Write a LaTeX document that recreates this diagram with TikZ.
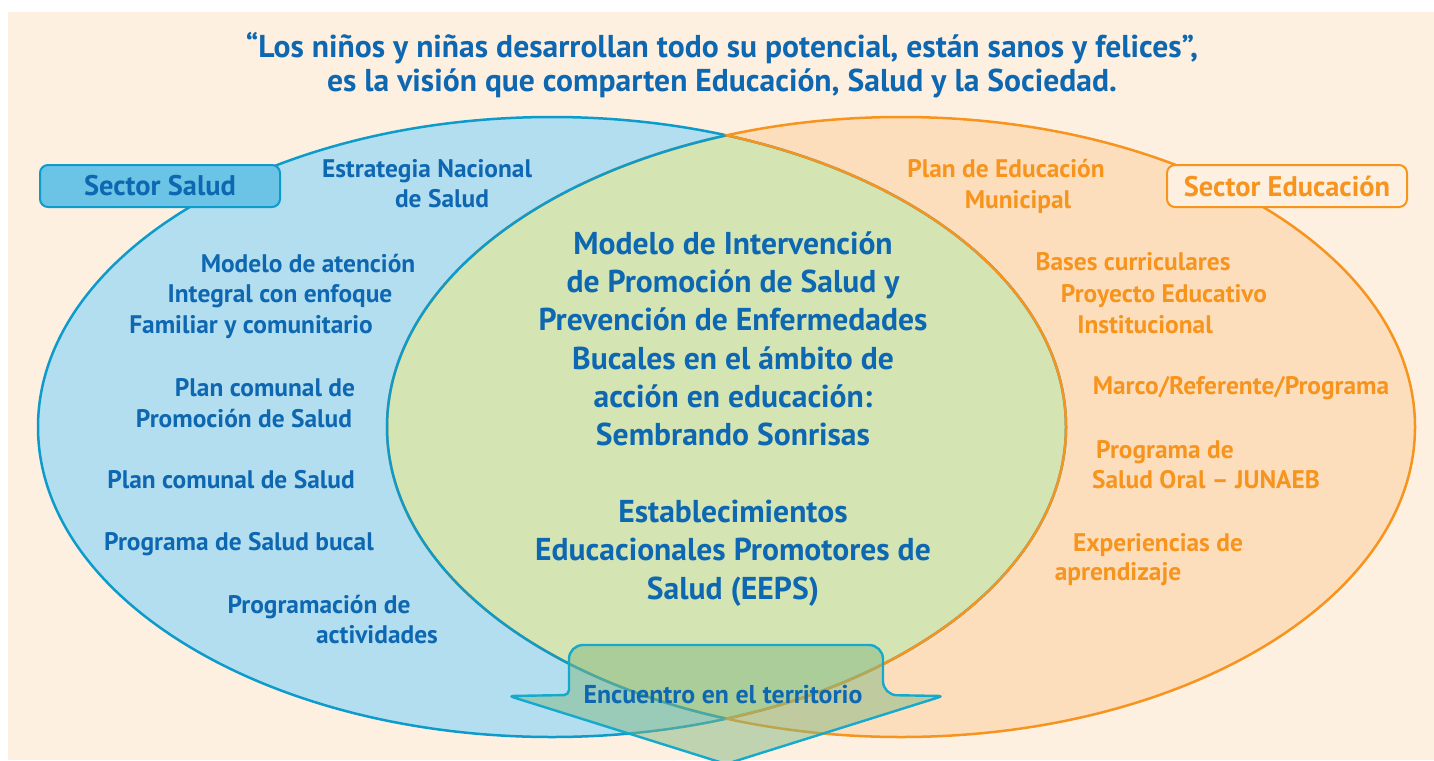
\documentclass[tikz,border=0pt]{standalone}
\usepackage{fontspec}
\setmainfont{PT Sans}
\usetikzlibrary{positioning}
\definecolor{cream}{HTML}{FDF0E1}
\definecolor{saludfill}{HTML}{B3DEF0}
\definecolor{saludline}{HTML}{0C9BCB}
\definecolor{saludtext}{HTML}{0D67B1}
\definecolor{saludbox}{HTML}{6BC4E5}
\definecolor{educfill}{HTML}{FDDEBC}
\definecolor{educline}{HTML}{F7941D}
\definecolor{lensfill}{HTML}{D4E4B3}
\definecolor{arrowfill}{HTML}{83B781}
\definecolor{arrowline}{HTML}{14A9CD}

\begin{document}
\begin{tikzpicture}[x=0.5pt,y=-0.5pt,
  oval/.style={x radius=514,y radius=310},
  saludtxt/.style={anchor=base,inner sep=0pt,text=saludtext,font=\fontsize{12.7}{15}\selectfont\bfseries},
  eductxt/.style={saludtxt,text=educline},
  sectorbox/.style={draw,line width=1pt,rounded corners=4pt,minimum width=120pt,minimum height=21pt,inner sep=0pt,font=\fontsize{14.2}{16}\selectfont\bfseries}]
\useasboundingbox (0,0) rectangle (1434,760);
\fill[white] (0,0) rectangle (1434,760);
\fill[cream] (8,12) rectangle (1434,760);

\coordinate (cl) at (552,427);
\coordinate (cr) at (901,427);

% the two sectors and where they meet
\fill[saludfill] (cl) ellipse [oval];
\fill[educfill] (cr) ellipse [oval];
\begin{scope}
\clip (cl) ellipse [oval];
\fill[lensfill] (cr) ellipse [oval];
\end{scope}
\draw[saludline,line width=1.25pt] (cl) ellipse [oval];
\draw[educline,line width=1.25pt] (cr) ellipse [oval];
\begin{scope}
\clip (cl) ellipse [oval];
\draw[saludline,line width=1.25pt] (cr) ellipse [oval];
\end{scope}
\begin{scope}
\clip (cr) ellipse [oval];
\draw[educline,line width=1.25pt] (cl) ellipse [oval];
\end{scope}

\node (vision) at (722,91) [anchor=base,align=center,inner sep=0pt,text=saludtext,font=\fontsize{15.8}{17}\selectfont\bfseries]
  {“Los niños y niñas desarrollan todo su potencial, están sanos y felices”,\\
   es la visión que comparten Educación, Salud y la Sociedad.};

\node (salud) at (160,186) [sectorbox,draw=saludline,fill=saludbox,text=saludtext] {Sector Salud};
\node (educ) at (1287,186) [sectorbox,draw=educline,fill=cream,text=educline] {Sector Educación};

% sector salud
\node (s1a) at (427,177) [saludtxt] {Estrategia Nacional};
\node (s1b) at (442,207) [saludtxt] {de Salud};
\node (s2a) at (308,272) [saludtxt] {Modelo de atención};
\node (s2b) at (280,302) [saludtxt] {Integral con enfoque};
\node (s2c) at (251,333) [saludtxt] {Familiar y comunitario};
\node (s3a) at (265,396) [saludtxt] {Plan comunal de};
\node (s3b) at (244,427) [saludtxt] {Promoción de Salud};
\node (s4) at (231,488) [saludtxt] {Plan comunal de Salud};
\node (s5) at (239,550) [saludtxt] {Programa de Salud bucal};
\node (s6a) at (319,613) [saludtxt] {Programación de};
\node (s6b) at (377,643) [saludtxt] {actividades};

% sector educacion
\node (e1a) at (1006,177) [eductxt] {Plan de Educación};
\node (e1b) at (1018,208) [eductxt] {Municipal};
\node (e2a) at (1133,270) [eductxt] {Bases curriculares};
\node (e2b) at (1164,302) [eductxt] {Proyecto Educativo};
\node (e2c) at (1145,333) [eductxt] {Institucional};
\node (e3) at (1241,394) [eductxt] {Marco/Referente/Programa};
\node (e4a) at (1165,458) [eductxt] {Programa de};
\node (e4b) at (1206,488) [eductxt] {Salud Oral – JUNAEB};
\node (e5a) at (1158,551) [eductxt] {Experiencias de};
\node (e5b) at (1118,580) [eductxt] {aprendizaje};

% interseccion
\node (modelo) at (733,599) [anchor=base,align=center,inner sep=0pt,text=saludtext,font=\fontsize{15.8}{19.15}\selectfont\bfseries]
  {Modelo de Intervención\\ de Promoción de Salud y\\ Prevención de Enfermedades\\ Bucales en el ámbito de\\ acción en educación:\\ Sembrando Sonrisas\\[19.15pt]
   Establecimientos\\ Educacionales Promotores de\\ Salud (EEPS)};

\draw[draw=arrowline,line width=1.2pt,fill=arrowfill,fill opacity=0.5]
  (569,695) {[rounded corners=7pt] -- (569,645) -- (883,645) -- (883,695)}
  [rounded corners=2.5pt] -- (943,696) -- (726,764) -- (509,696) -- cycle;
\node (territorio) at (723,703) [anchor=base,inner sep=0pt,text=saludtext,font=\fontsize{12.9}{15}\selectfont\bfseries] {Encuentro en el territorio};
\end{tikzpicture}
\end{document}
